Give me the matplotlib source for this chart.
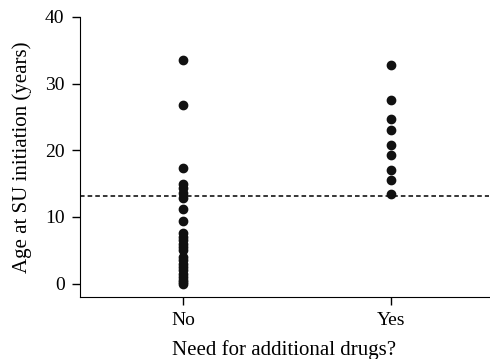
import matplotlib
matplotlib.use('Agg')
import matplotlib.pyplot as plt
import numpy as np

plt.rcParams['font.family'] = 'Liberation Serif'

groups = ['No', 'Yes']
age_no = [33.5, 26.8, 17.3, 14.9, 14.3, 13.6, 12.9, 11.2, 9.4, 7.6, 7.0, 6.5,
          6.0, 5.5, 5.0, 4.0, 3.5, 3.0, 2.5, 2.0, 1.5, 1.0, 0.5, 0.2, 0.0]
age_yes = [32.8, 27.5, 24.7, 23.1, 20.8, 19.3, 17.0, 15.5, 13.5]
cutoff = 13.2

fig = plt.figure(figsize=(4.9, 3.59), dpi=100)
ax = fig.add_axes([0.163, 0.1727, 0.835, 0.78])

ax.scatter(np.full(len(age_no), 1), age_no, s=36, color='#111111', zorder=3)
ax.scatter(np.full(len(age_yes), 2), age_yes, s=36, color='#111111', zorder=3)
ax.axhline(cutoff, color='black', linestyle=(0, (3, 2)), linewidth=1.1)

ax.set_xlim(0.505, 2.47)
ax.set_ylim(-2, 40)
ax.set_xticks([1, 2])
ax.set_xticklabels(groups)
ax.set_yticks([0, 10, 20, 30, 40])
ax.spines['top'].set_visible(False)
ax.spines['right'].set_visible(False)
ax.tick_params(direction='out', length=6, width=1, labelsize=14, pad=5)
ax.set_xlabel('Need for additional drugs?', fontsize=15, labelpad=8)
ax.set_ylabel('Age at SU initiation (years)', fontsize=15, labelpad=9)

fig.savefig('out.png', dpi=100)
